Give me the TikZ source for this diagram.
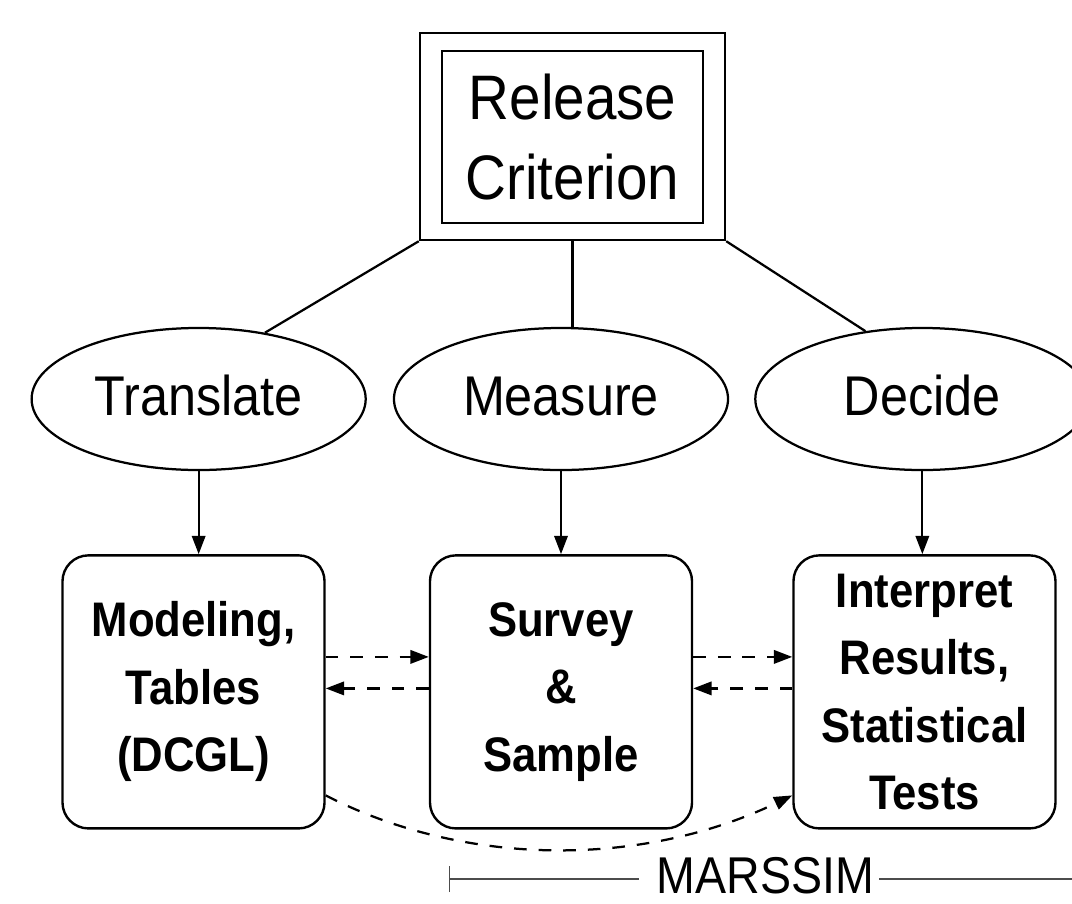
\documentclass[tikz,border=0pt]{standalone}
\usepackage{fontspec}
\setmainfont{Liberation Sans}[FakeStretch=0.9]
\usetikzlibrary{arrows.meta,positioning,shapes.geometric,calc}
\tikzset{
  critbox/.style={rectangle,draw,line width=1.7pt,align=center,inner sep=0pt,font=\fontsize{44.7}{56.9}\selectfont},
  task/.style={ellipse,draw,line width=1.6pt,minimum width=8.35cm,minimum height=3.55cm,inner sep=0pt,text height=28.5pt,text depth=5.7pt,font=\fontsize{39.8}{48}\selectfont},
  tool/.style={rectangle,rounded corners=18.5pt,draw,line width=1.7pt,minimum width=6.55cm,minimum height=6.825cm,align=center,inner sep=0pt,font=\bfseries\fontsize{34.5}{48}\selectfont},
  link/.style={line width=1.6pt},
  arrow/.style={-{Triangle[length=13pt,width=9.5pt]},line width=1.6pt},
  dasharrow/.style={arrow,dash pattern=on 9pt off 8.5pt},
  span/.style={line width=0.8pt,black!70}
}
\begin{document}
\begin{tikzpicture}[x=0.025cm,y=-0.025cm,node distance=0.65cm]
    \clip (0,0) rectangle (1072,903);
    \node[critbox,minimum width=7.625cm,minimum height=5.175cm] (critout) at (572.5,136.5) {};
    \node[critbox,minimum width=6.525cm,minimum height=4.3cm] (crit) at (572.5,137) {Release\\Criterion};

    \node[task] (meas) at (561,399) {Measure};
    \node[task,left=of meas] (tran) {Translate};
    \node[task,right=0.625cm of meas] (deci) {Decide};
    \draw[link] (critout.south west) -- (tran.45);
    \draw[link] (critout.south) -- (critout.south |- meas.north);
    \draw[link] (critout.south east) -- (deci.130);

    \node[tool,below=2.075cm of meas] (survey) {Survey\\\&\\Sample};
    \node[tool,left=2.575cm of survey] (model) {Modeling,\\Tables\\(DCGL)};
    \node[tool,right=2.475cm of survey] (interp) {Interpret\\Results,\\Statistical\\Tests};
    \draw[arrow] (tran.south) -- (tran.south |- model.north);
    \draw[arrow] (meas.south) -- (meas.south |- survey.north);
    \draw[arrow] (deci.south) -- (deci.south |- interp.north);

    \draw[dasharrow] ($(model.east)+(0,-35)$) -- ($(survey.west)+(0,-35)$);
    \draw[dasharrow] ($(survey.west)+(0,-3.5)$) -- ($(model.east)+(0,-3.5)$);
    \draw[dasharrow] ($(survey.east)+(0,-35)$) -- ($(interp.west)+(0,-35)$);
    \draw[dasharrow] ($(interp.west)+(0,-3.5)$) -- ($(survey.east)+(0,-3.5)$);
    \draw[dasharrow] ($(model.east)+(0,103.5)$) .. controls +(140,72) and +(-150,72) .. ($(interp.west)+(0,103.5)$);

    % MARSSIM span
    \node[inner sep=0pt,font=\fontsize{36.8}{40}\selectfont,anchor=base] (mars) at (765.5,893) {MARSSIM};
    \coordinate (mstart) at (449,879);
    \coordinate (mend) at (1072,879);
    \draw[span,{Bar[width=18.5pt]}-] (mstart) -- ($(mstart -| mars.west)+(-18,0)$);
    \draw[span] ($(mend -| mars.east)+(5,0)$) -- (mend);
\end{tikzpicture}
\end{document}
